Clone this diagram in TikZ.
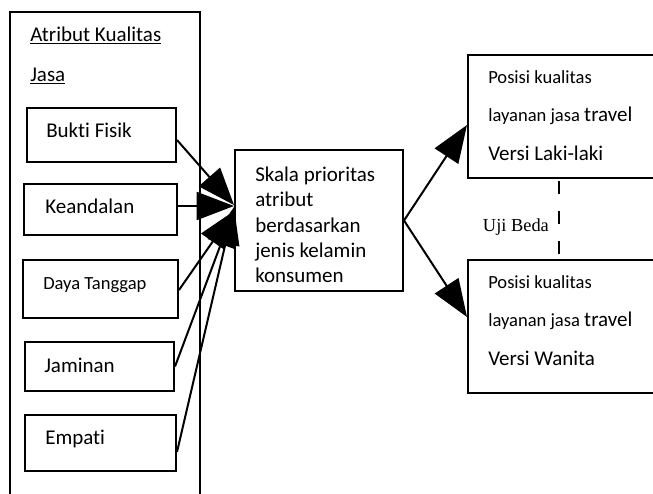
\documentclass[tikz,border=0pt]{standalone}
\usepackage{fontspec}
\setmainfont{Carlito}[Ligatures=NoCommon]
\newfontfamily\timesfont{Liberation Serif}
\usetikzlibrary{arrows.meta,calc}
\begin{document}
\begin{tikzpicture}[x=0.75pt,y=-0.75pt,
  box/.style={draw, line width=1.5pt, inner sep=0pt},
  lbl/.style={inner sep=0pt, anchor=base west, font=\fontsize{15.75pt}{18.9pt}\selectfont},
  smalllbl/.style={inner sep=0pt, anchor=base west, font=\fontsize{13.9pt}{16.7pt}\selectfont},
  arr/.style={line width=1.5pt, -{Triangle[length=28pt, width=21pt]}},
  rtext/.style={inner sep=0pt, anchor=base west, align=left, font=\fontsize{13.9pt}{28.8pt}\selectfont},
  big/.style={font=\fontsize{15.75pt}{28.8pt}\selectfont}
]
\useasboundingbox (0,0) rectangle (653,493);
\clip (0,0) rectangle (653,493);

% container
\node[box, minimum width=142.5pt, minimum height=373.5pt] (outer) at (105,261) {};
\node[lbl] (title1) at (30,41.5) {\underline{Atribut Kualitas}};
\node[lbl] (title2) at (30,81) {\underline{Jasa}};

% attribute boxes
\node[box, minimum width=111.75pt, minimum height=40.5pt] (bukti) at (101.5,135) {};
\node[lbl] (tbukti) at (46,137) {Bukti Fisik};
\node[box, minimum width=114.75pt, minimum height=38.25pt] (keand) at (100.5,209.5) {};
\node[lbl] (tkeand) at (45,213) {Keandalan};
\node[box, minimum width=116.25pt, minimum height=43.5pt] (daya) at (100.5,289) {};
\node[smalllbl] (tdaya) at (43,289) {Daya Tanggap};
\node[box, minimum width=111.75pt, minimum height=36.75pt] (jam) at (99.5,366.5) {};
\node[lbl] (tjam) at (44,372) {Jaminan};
\node[box, minimum width=113.25pt, minimum height=42pt] (emp) at (100.5,443) {};
\node[lbl] (temp) at (45,444) {Empati};

% center box
\node[box, minimum width=126pt, minimum height=105.75pt] (center) at (319,220.5) {};
\node[lbl, align=left] (tcenter) at (255,282.5) {Skala prioritas\\atribut\\berdasarkan\\jenis kelamin\\konsumen};

% right boxes
\node[box, minimum width=174pt, minimum height=92.25pt] (top) at (584,116.5) {};
\node[rtext] (ttop) at (488,160) {Posisi kualitas\\layanan jasa {\fontsize{15.75pt}{28.8pt}\selectfont travel}\\{\fontsize{15.75pt}{28.8pt}\selectfont Versi Laki-laki}};
\node[box, minimum width=174pt, minimum height=99.75pt] (bot) at (584,326.5) {};
\node[rtext] (tbot) at (488,365) {Posisi kualitas\\layanan jasa {\fontsize{15.75pt}{28.8pt}\selectfont travel}\\{\fontsize{15.75pt}{28.8pt}\selectfont Versi Wanita}};

% uji beda
\node[inner sep=0pt, anchor=base west, font=\timesfont\fontsize{13.8pt}{16pt}\selectfont] (uji) at (482.7,231.7) {Uji Beda};
\draw[line width=2.2pt, dash pattern=on 9.75pt off 12.75pt] ($(top.south)+(-25,2)$) -- ($(bot.north)+(-25,0)$);

% arrows
\draw[arr] ($(bukti.east)+(0,5)$) -- ($(center.west)+(0,-15.5)$);
\draw[arr] ($(keand.east)+(0,-3.5)$) -- ($(center.west)+(0,-14.5)$);
\draw[arr] ($(daya.east)+(0,1)$) -- ($(center.west)+(0,-9.5)$);
\draw[arr] (jam.east) -- ($(center.west)+(0,-11.5)$);
\draw[arr] ($(emp.east)+(0,9)$) -- ($(center.west)+(0,-13.5)$);
\draw[arr] (center.east) -- ($(top.west)+(0,8.5)$);
\draw[arr] (center.east) -- ($(bot.west)+(0,-9.5)$);
\end{tikzpicture}
\end{document}
